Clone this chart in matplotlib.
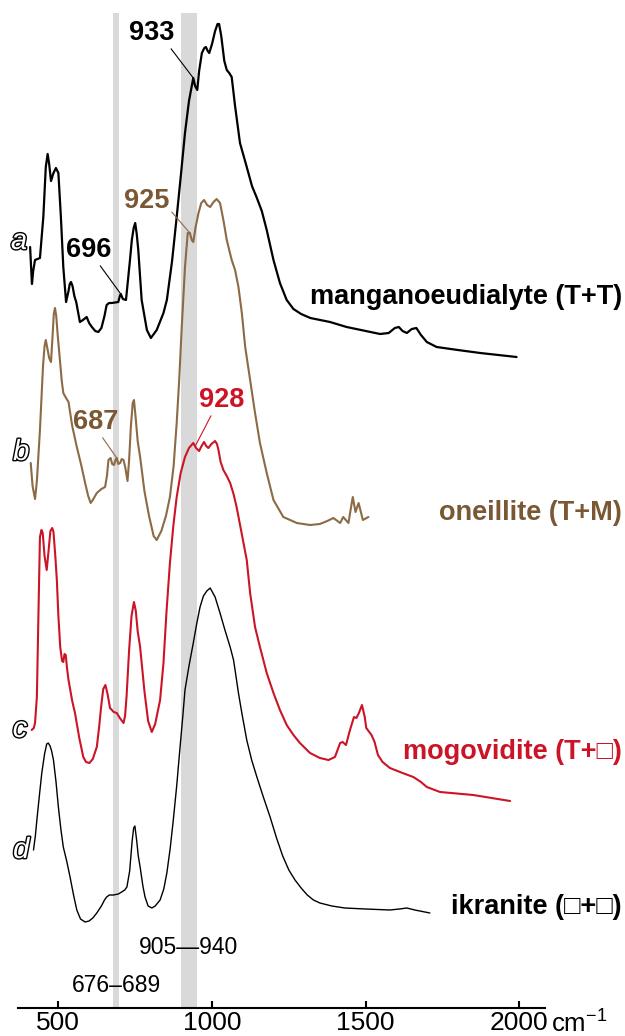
import numpy as np
import matplotlib
matplotlib.use("Agg")
import matplotlib.pyplot as plt
import matplotlib.patheffects as pe

plt.rcParams['font.family'] = ['Liberation Sans', 'DejaVu Sans']
plt.rcParams['mathtext.default'] = 'regular'

# IR spectra: wavenumber (cm-1) and intensity (arb. units)
wn_a = [408, 411, 414, 418, 424, 440, 451, 459, 465, 470, 476, 484, 492, 500, 508,
        516, 525, 533, 537, 541, 546, 552, 558, 570, 580, 592, 600, 609, 620, 630,
        640, 650, 657, 665, 674, 695, 700, 703, 710, 720, 733, 739, 745, 750, 755,
        760, 771, 788, 801, 820, 842, 853, 870, 885, 900, 912, 925, 939, 945, 952,
        958, 967, 975, 980, 986, 991, 1000, 1010, 1018, 1023, 1030, 1040, 1048, 1056,
        1064, 1075, 1091, 1113, 1130, 1146, 1162, 1178, 1200, 1221, 1243, 1265, 1290,
        1320, 1384, 1438, 1547, 1575, 1595, 1608, 1620, 1634, 1650, 1665, 1680, 1699,
        1731, 1800, 1873, 1991]
int_a = [1.09, 0.90, 0.72, 0.85, 0.96, 0.98, 1.39, 1.89, 2.02, 1.92, 1.75, 1.83, 1.88,
         1.83, 1.40, 0.89, 0.54, 0.65, 0.72, 0.74, 0.70, 0.60, 0.54, 0.34, 0.36, 0.39,
         0.33, 0.29, 0.25, 0.24, 0.28, 0.40, 0.51, 0.53, 0.53, 0.54, 0.60, 0.62, 0.57,
         0.56, 0.96, 1.16, 1.28, 1.33, 1.22, 1.06, 0.56, 0.26, 0.18, 0.26, 0.43, 0.56,
         0.95, 1.39, 1.85, 2.23, 2.55, 2.78, 2.70, 2.66, 2.85, 3.03, 3.08, 3.09, 3.05,
         3.03, 3.12, 3.25, 3.32, 3.32, 3.20, 2.95, 2.86, 2.83, 2.79, 2.50, 2.13, 1.89,
         1.70, 1.58, 1.45, 1.26, 0.96, 0.73, 0.56, 0.47, 0.42, 0.38, 0.34, 0.29, 0.22,
         0.23, 0.28, 0.29, 0.25, 0.23, 0.27, 0.28, 0.21, 0.14, 0.09, 0.06, 0.03, -0.01]

wn_b = [410, 416, 424, 430, 440, 450, 455, 459, 464, 470, 476, 482, 485, 489, 493,
        498, 505, 511, 516, 525, 533, 545, 560, 575, 587, 597, 605, 612, 625, 640,
        652, 658, 663, 670, 675, 681, 686, 690, 695, 701, 706, 712, 718, 725, 730,
        736, 742, 746, 751, 758, 766, 780, 795, 810, 820, 835, 850, 863, 875, 885,
        893, 901, 912, 921, 928, 934, 939, 946, 956, 965, 974, 984, 994, 1005, 1015,
        1026, 1037, 1048, 1064, 1075, 1086, 1097, 1108, 1124, 1140, 1156, 1178, 1200,
        1232, 1276, 1319, 1351, 1375, 1395, 1417, 1427, 1444, 1458, 1467, 1477, 1491,
        1509]
int_b = [0.73, 0.50, 0.37, 0.55, 1.06, 1.70, 1.90, 1.96, 1.88, 1.78, 1.74, 2.05, 2.22,
         2.28, 2.20, 2.00, 1.76, 1.55, 1.43, 1.38, 1.34, 1.10, 0.89, 0.70, 0.53, 0.40,
         0.33, 0.36, 0.43, 0.47, 0.49, 0.60, 0.76, 0.78, 0.72, 0.71, 0.76, 0.78, 0.72,
         0.73, 0.77, 0.76, 0.68, 0.55, 0.75, 1.10, 1.33, 1.36, 1.20, 0.95, 0.79, 0.45,
         0.20, 0.00, -0.04, 0.05, 0.20, 0.39, 0.70, 1.13, 1.55, 2.06, 2.69, 3.03, 3.03,
         2.96, 2.94, 3.08, 3.23, 3.33, 3.36, 3.31, 3.29, 3.34, 3.37, 3.33, 3.16, 2.96,
         2.76, 2.66, 2.49, 2.23, 1.89, 1.56, 1.23, 0.93, 0.63, 0.36, 0.19, 0.13, 0.11,
         0.12, 0.15, 0.18, 0.13, 0.19, 0.13, 0.39, 0.24, 0.33, 0.16, 0.19]

wn_c = [413, 420, 424, 430, 435, 440, 445, 449, 455, 462, 468, 474, 480, 484, 490,
        495, 500, 506, 512, 516, 520, 524, 528, 533, 545, 554, 568, 581, 590, 601,
        612, 625, 633, 639, 646, 653, 660, 668, 680, 690, 700, 712, 717, 722, 730,
        738, 746, 752, 758, 766, 780, 792, 804, 815, 831, 842, 852, 863, 874, 885,
        898, 912, 925, 939, 948, 958, 966, 974, 981, 988, 998, 1010, 1016, 1021, 1028,
        1037, 1048, 1059, 1070, 1080, 1095, 1113, 1124, 1140, 1156, 1178, 1200, 1221,
        1243, 1265, 1286, 1319, 1351, 1379, 1400, 1417, 1425, 1436, 1449, 1462, 1470,
        1478, 1488, 1497, 1502, 1519, 1529, 1540, 1555, 1579, 1620, 1655, 1680, 1699,
        1742, 1850, 1970]
int_c = [0.76, 0.78, 0.83, 1.09, 1.90, 2.69, 2.76, 2.73, 2.50, 2.36, 2.55, 2.75, 2.78,
         2.74, 2.50, 2.26, 1.90, 1.59, 1.45, 1.44, 1.52, 1.51, 1.38, 1.26, 1.05, 0.93,
         0.68, 0.49, 0.44, 0.43, 0.47, 0.59, 0.80, 0.99, 1.17, 1.21, 1.12, 0.98, 0.94,
         0.93, 0.88, 0.83, 0.90, 1.10, 1.55, 1.90, 2.04, 1.95, 1.75, 1.59, 1.15, 0.85,
         0.74, 0.82, 1.06, 1.43, 1.95, 2.43, 2.80, 3.09, 3.33, 3.49, 3.58, 3.63, 3.58,
         3.55, 3.60, 3.64, 3.60, 3.58, 3.62, 3.65, 3.62, 3.56, 3.44, 3.36, 3.30, 3.23,
         3.12, 2.99, 2.75, 2.46, 2.13, 1.79, 1.59, 1.33, 1.13, 0.96, 0.81, 0.71, 0.63,
         0.53, 0.48, 0.46, 0.49, 0.63, 0.64, 0.61, 0.76, 0.89, 0.88, 0.93, 1.01, 0.89,
         0.78, 0.71, 0.64, 0.51, 0.44, 0.38, 0.33, 0.29, 0.24, 0.19, 0.14, 0.11, 0.05]

wn_d = [419, 425, 430, 438, 446, 455, 462, 467, 473, 478, 484, 492, 500, 508, 516,
        527, 538, 550, 560, 572, 587, 600, 612, 625, 640, 650, 657, 666, 679, 695,
        706, 716, 723, 732, 740, 745, 749, 755, 760, 766, 775, 782, 792, 804, 815,
        831, 843, 853, 864, 874, 885, 896, 905, 912, 925, 939, 950, 961, 972, 983,
        994, 1010, 1026, 1042, 1059, 1070, 1075, 1086, 1097, 1113, 1129, 1146, 1167,
        1189, 1210, 1230, 1250, 1270, 1290, 1310, 1330, 1351, 1390, 1432, 1500, 1579,
        1610, 1634, 1660, 1709]
int_d = [0.66, 0.80, 0.96, 1.20, 1.43, 1.62, 1.72, 1.73, 1.70, 1.65, 1.56, 1.35, 1.09,
         0.87, 0.69, 0.55, 0.39, 0.20, 0.06, -0.03, -0.06, -0.05, -0.02, 0.03, 0.10,
         0.16, 0.19, 0.21, 0.21, 0.22, 0.24, 0.26, 0.29, 0.45, 0.75, 0.88, 0.90, 0.75,
         0.60, 0.49, 0.30, 0.19, 0.10, 0.08, 0.10, 0.16, 0.27, 0.43, 0.68, 0.96, 1.30,
         1.69, 2.00, 2.26, 2.50, 2.73, 2.92, 3.09, 3.20, 3.25, 3.28, 3.19, 3.03, 2.86,
         2.69, 2.56, 2.46, 2.23, 2.03, 1.76, 1.56, 1.39, 1.19, 0.99, 0.78, 0.60, 0.46,
         0.36, 0.28, 0.21, 0.16, 0.13, 0.10, 0.08, 0.07, 0.06, 0.07, 0.08, 0.06, 0.03]

names = ["manganoeudialyte (T+T)", "oneillite (T+M)", "mogovidite (T+\u25a1)", "ikranite (\u25a1+\u25a1)"]
letters = ["a", "b", "c", "d"]
offsets = [6.80, 5.00, 2.30, 1.20]
line_colors = ["black", "#8c6a45", "#cc1427", "black"]
text_colors = ["black", "#7b5834", "#cc1427", "black"]
widths = [1.6, 1.5, 1.5, 1.0]

bands = [(679, 698), (899, 952)]
band_labels = ["676\u2013689", "905\u2014940"]

# peak annotations: (spectrum index, label, target wn)
peak_marks = [(0, "933", 939), (0, "696", 703), (1, "925", 928), (1, "687", 690), (2, "928", 945)]

fig = plt.figure(figsize=(6.25, 10.36), dpi=100)
ax = fig.add_axes([0, 0, 1, 1])
ax.set_xlim(310, 2344)
ax.set_ylim(0, 10.36)

for x0, x1 in bands:
    ax.axvspan(x0, x1, ymin=0.027, ymax=0.987, color="#d9d9d9", lw=0, zorder=0)

spectra = [(wn_a, int_a), (wn_b, int_b), (wn_c, int_c), (wn_d, int_d)]
for i, (wn, inten) in enumerate(spectra):
    y = np.array(inten) + offsets[i]
    ax.plot(wn, y, color=line_colors[i], lw=widths[i], solid_joinstyle="round",
            solid_capstyle="round", zorder=3)

# spectrum names on the right
name_y = [7.39, 5.23, 2.84, 1.29]
for i, nm in enumerate(names):
    ax.text(2334, name_y[i], nm, ha="right", va="center", fontsize=19.5,
            fontweight="bold", color=text_colors[i])

# italic outlined letters
letter_x = [372, 379, 375, 379]
letter_y = [7.95, 5.84, 3.07, 1.86]
for i, lt in enumerate(letters):
    ax.text(letter_x[i], letter_y[i], lt, ha="center", va="center", fontsize=21,
            style="italic", color="white",
            path_effects=[pe.withStroke(linewidth=2.0, foreground="black")])

# peak labels with leader lines
label_pos = [(805, 10.03, (0.85, 0.05)), (597, 7.86, (0.7, 0.05)), (786, 8.35, (1.0, 0.2)),
             (620, 6.14, (0.6, 0.05)), (1033, 6.36, (0.3, 0.05))]
for (si, txt, w), (tx, ty, rp) in zip(peak_marks, label_pos):
    wn, inten = spectra[si]
    yy = np.interp(w, wn, inten) + offsets[si]
    ax.annotate(txt, xy=(w, yy), xytext=(tx, ty), ha="center", va="center",
                fontsize=19.5, fontweight="bold", color=text_colors[si],
                arrowprops=dict(arrowstyle="-", color=line_colors[si], lw=0.8,
                                relpos=rp, shrinkA=0, shrinkB=0))

# band labels
ax.text(922, 0.89, band_labels[1], ha="center", va="center", fontsize=16.5)
ax.text(690, 0.51, band_labels[0], ha="center", va="center", fontsize=16.5)

# axis styling: only the bottom axis
for s in ["top", "left", "right"]:
    ax.spines[s].set_visible(False)
ax.spines["bottom"].set_position(("data", 0.28))
ax.spines["bottom"].set_bounds(367, 2085)
ax.spines["bottom"].set_linewidth(1.5)
ax.set_yticks([])
ax.set_xticks([500, 1000, 1500, 2000])
ax.tick_params(axis="x", direction="in", length=5, width=1.5, pad=2, labelsize=19)
ax.text(2102, 0.12, "cm$^{-1}$", ha="left", va="center", fontsize=18.5)

fig.savefig("out.png", dpi=100)
